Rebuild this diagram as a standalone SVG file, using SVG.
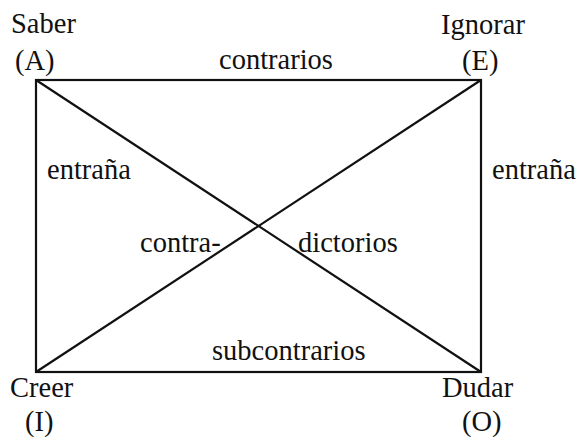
<svg xmlns="http://www.w3.org/2000/svg" width="578" height="437" viewBox="0 0 578 437">
<style>
text{font-family:"Liberation Serif","Times New Roman",serif;font-size:28.5px;fill:#111}
.ln{stroke:#111;stroke-width:2.2;fill:none}
</style>
<rect width="578" height="437" fill="#fff"/>
<g id="connectors">
<rect class="ln" x="36" y="80" width="445" height="292"/>
<line class="ln" x1="36" y1="80" x2="481" y2="372"/>
<line class="ln" x1="481" y1="80" x2="36" y2="372"/>
</g>
<g id="labels">
<text x="219" y="69">contrarios</text>
<text x="47" y="179">entraña</text>
<text x="492" y="179">entraña</text>
<text x="140" y="252">contra-</text>
<text x="298" y="252">dictorios</text>
<text x="212" y="360">subcontrarios</text>
</g>
<g id="nodeA"><text x="11" y="33">Saber</text><text x="15" y="70">(A)</text></g>
<g id="nodeE"><text x="441" y="34">Ignorar</text><text x="462" y="70">(E)</text></g>
<g id="nodeI"><text x="10" y="397">Creer</text><text x="25" y="431">(I)</text></g>
<g id="nodeO"><text x="442" y="397">Dudar</text><text x="462" y="431">(O)</text></g>
</svg>
